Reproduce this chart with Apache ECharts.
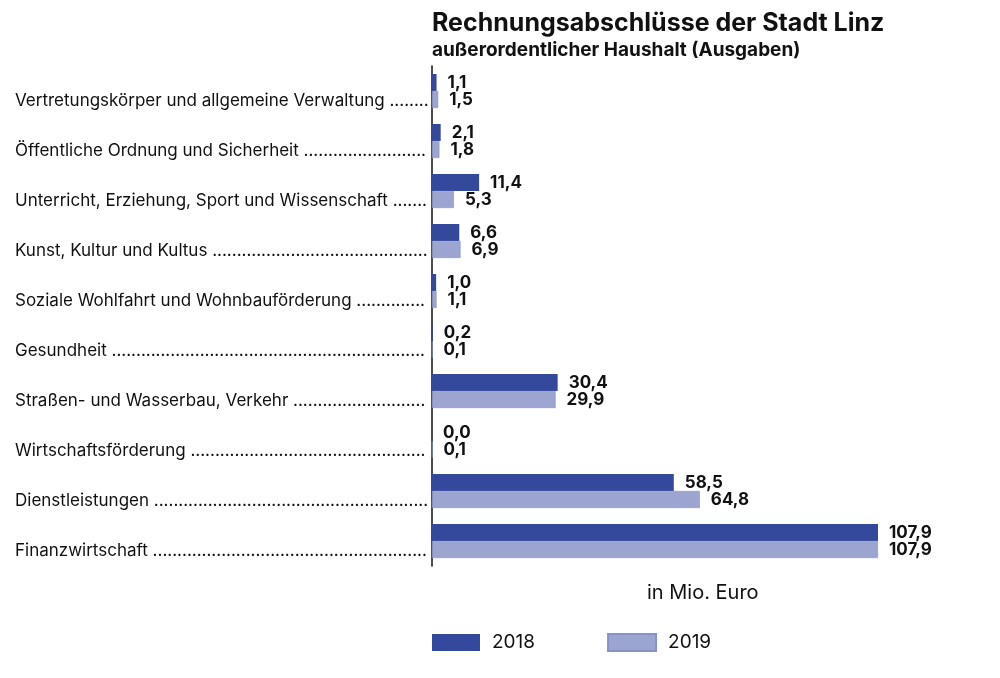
<!DOCTYPE html>
<html lang="de">
<head>
    <meta charset="UTF-8">
    <script src="https://cdn.jsdelivr.net/npm/echarts@6/dist/echarts.min.js"></script>
    <title>Rechnungsabschlüsse der Stadt Linz</title>
    <style>
        html, body { margin: 0; padding: 0; background: #fff; }
    </style>
</head>
<body>
<div id="main" style="width: 1000px;height:678px;"></div>

<script type="text/javascript">

    // Daten
    var categories = [
        'Vertretungskörper und allgemeine Verwaltung',
        'Öffentliche Ordnung und Sicherheit',
        'Unterricht, Erziehung, Sport und Wissenschaft',
        'Kunst, Kultur und Kultus',
        'Soziale Wohlfahrt und Wohnbauförderung',
        'Gesundheit',
        'Straßen- und Wasserbau, Verkehr',
        'Wirtschaftsförderung',
        'Dienstleistungen',
        'Finanzwirtschaft'
    ];
    var values2018 = [1.1, 2.1, 11.4, 6.6, 1.0, 0.2, 30.4, 0.0, 58.5, 107.9];
    var values2019 = [1.5, 1.8, 5.3, 6.9, 1.1, 0.1, 29.9, 0.1, 64.8, 107.9];
    var seriesNames = ['2018', '2019'];

    var FONT = 'Inter';
    var labelFont = '17px ' + FONT;

    // Punktlinie bis knapp vor die Achse auffüllen
    var ctx = document.createElement('canvas').getContext('2d');
    ctx.font = labelFont;
    function withDots(name) {
        var maxW = 414;
        var s = name + ' ';
        while (ctx.measureText(s + '.').width <= maxW) {
            s += '.';
        }
        return s;
    }

    function fmt(v) {
        return v.toFixed(1).replace('.', ',');
    }

    var myChart = echarts.init(document.getElementById('main'));

    var option = {
        backgroundColor: '#ffffff',
        textStyle: { fontFamily: FONT },
        title: {
            text: 'Rechnungsabschlüsse der Stadt Linz',
            subtext: 'außerordentlicher Haushalt (Ausgaben)',
            left: 427,
            top: 6,
            itemGap: 5,
            textStyle: {
                fontFamily: FONT,
                fontSize: 25,
                fontWeight: 'bold',
                color: '#111'
            },
            subtextStyle: {
                fontFamily: FONT,
                fontSize: 19,
                fontWeight: 'bold',
                color: '#111'
            }
        },
        legend: {
            left: 427,
            top: 628,
            itemWidth: 48,
            itemHeight: 17,
            itemGap: 72,
            icon: 'rect',
            textStyle: {
                fontFamily: FONT,
                fontSize: 19,
                color: '#111',
                padding: [0, 0, 0, 7]
            },
            data: seriesNames
        },
        graphic: [
            {
                type: 'text',
                left: 647,
                top: 583,
                style: {
                    text: 'in Mio. Euro',
                    font: '20px ' + FONT,
                    fill: '#111'
                }
            }
        ],
        grid: {
            left: 432,
            top: 66,
            width: 496,
            height: 500
        },
        xAxis: {
            type: 'value',
            min: 0,
            max: 120,
            show: false
        },
        yAxis: {
            type: 'category',
            inverse: true,
            data: categories,
            axisLine: {
                show: true,
                lineStyle: { color: '#111', width: 1.5 }
            },
            axisTick: { show: false },
            axisLabel: {
                align: 'left',
                verticalAlign: 'top',
                lineHeight: 20,
                margin: 417,
                fontFamily: FONT,
                fontSize: 17,
                color: '#111',
                formatter: function (v) { return withDots(v); }
            }
        },
        series: [
            {
                name: seriesNames[0],
                type: 'bar',
                data: values2018,
                barWidth: 17,
                barGap: '0%',
                itemStyle: { color: '#34499b' },
                label: {
                    show: true,
                    position: 'right',
                    distance: 11,
                    fontFamily: FONT,
                    fontSize: 17,
                    fontWeight: 'bold',
                    color: '#111',
                    formatter: function (p) { return fmt(p.value); }
                }
            },
            {
                name: seriesNames[1],
                type: 'bar',
                data: values2019,
                barWidth: 17,
                barGap: '0%',
                itemStyle: { color: '#9ba5cf', borderColor: '#8793c8', borderWidth: 0.6 },
                label: {
                    show: true,
                    position: 'right',
                    distance: 11,
                    fontFamily: FONT,
                    fontSize: 17,
                    fontWeight: 'bold',
                    color: '#111',
                    formatter: function (p) { return fmt(p.value); }
                }
            }
        ]
    };

    myChart.setOption(option);
</script>
</body>
</html>
